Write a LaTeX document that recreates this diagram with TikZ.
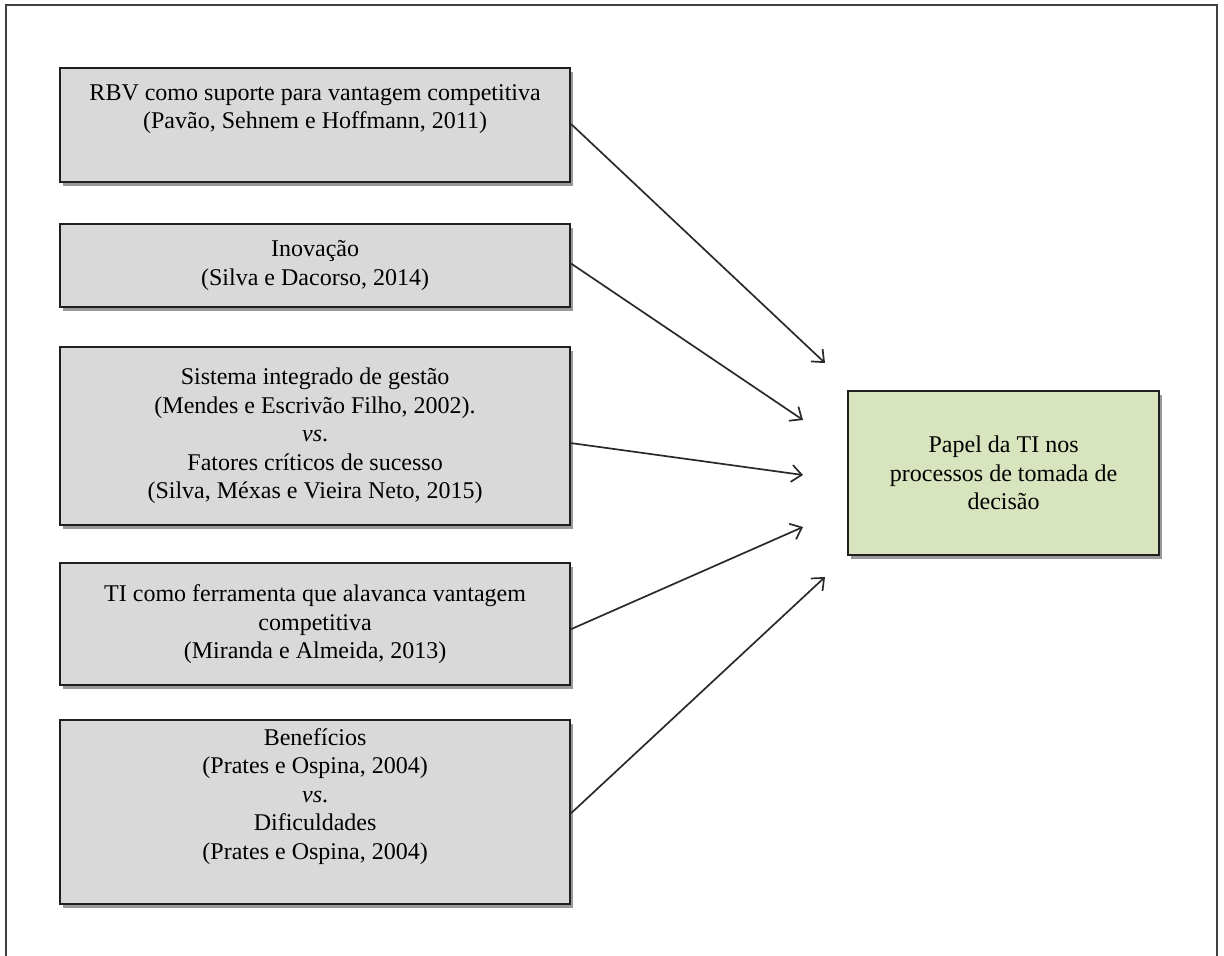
\documentclass[tikz,border=0pt]{standalone}
\usepackage{fontspec}
\setmainfont{Liberation Serif}
\usetikzlibrary{arrows.meta,shadows}
\definecolor{boxgray}{HTML}{D9D9D9}
\definecolor{boxgreen}{HTML}{D7E4BD}
\definecolor{framegray}{HTML}{404040}
\definecolor{arrowgray}{HTML}{2A2A2A}
\begin{document}
\begin{tikzpicture}[x=1pt,y=-1pt,
  basebox/.style={draw=black!88,line width=2.2pt,inner sep=0pt,align=center,
    font={\fontsize{24}{28.5}\selectfont},
    drop shadow={shadow xshift=2.5pt,shadow yshift=-3.5pt,opacity=0.4,fill=black}},
  srcbox/.style={basebox,fill=boxgray,minimum width=510pt,anchor=north west},
  tgtbox/.style={basebox,fill=boxgreen,minimum width=311pt,minimum height=164pt,anchor=north west},
  link/.style={draw=arrowgray,line width=1.7pt,-{Straight Barb[length=10pt,width=17pt,line width=1.7pt]}}]
\useasboundingbox (0,0) rectangle (1224,956);
\clip (0,0) rectangle (1224,956);
\draw[framegray,line width=2.2pt] (6,980) -- (6,5) -- (1217,5) -- (1217,980);

\node[srcbox,minimum height=114pt] (b1) at (59,67)
  {RBV como suporte para vantagem competitiva\\(Pavão, Sehnem e Hoffmann, 2011)\\\strut};
\node[srcbox,minimum height=83pt] (b2) at (59,223)
  {Inovação\\(Silva e Dacorso, 2014)};
\node[srcbox,minimum height=178pt] (b3) at (59,346)
  {Sistema integrado de gestão\\(Mendes e Escrivão Filho, 2002).\\\textit{vs}.\\Fatores críticos de sucesso\\(Silva, Méxas e Vieira Neto, 2015)};
\node[srcbox,minimum height=122pt] (b4) at (59,562)
  {TI como ferramenta que alavanca vantagem\\competitiva\\(Miranda e Almeida, 2013)};
\node[srcbox,minimum height=184pt] (b5) at (59,719)
  {Benefícios\\(Prates e Ospina, 2004)\\\textit{vs}.\\Dificuldades\\(Prates e Ospina, 2004)\\\strut};

\node[tgtbox] (t) at (847,390)
  {Papel da TI nos\\processos de tomada de\\decisão};

\coordinate (e1) at (825,363);
\coordinate (e2) at (803,420);
\coordinate (e3) at (803,475);
\coordinate (e4) at (803,527);
\coordinate (e5) at (825,577);

\draw[link] ([yshift=1pt]b1.east) -- (e1);
\draw[link] ([yshift=2pt]b2.east) -- (e2);
\draw[link] ([yshift=-7pt]b3.east) -- (e3);
\draw[link] ([yshift=-5pt]b4.east) -- (e4);
\draw[link] ([yshift=-1pt]b5.east) -- (e5);
\end{tikzpicture}
\end{document}
